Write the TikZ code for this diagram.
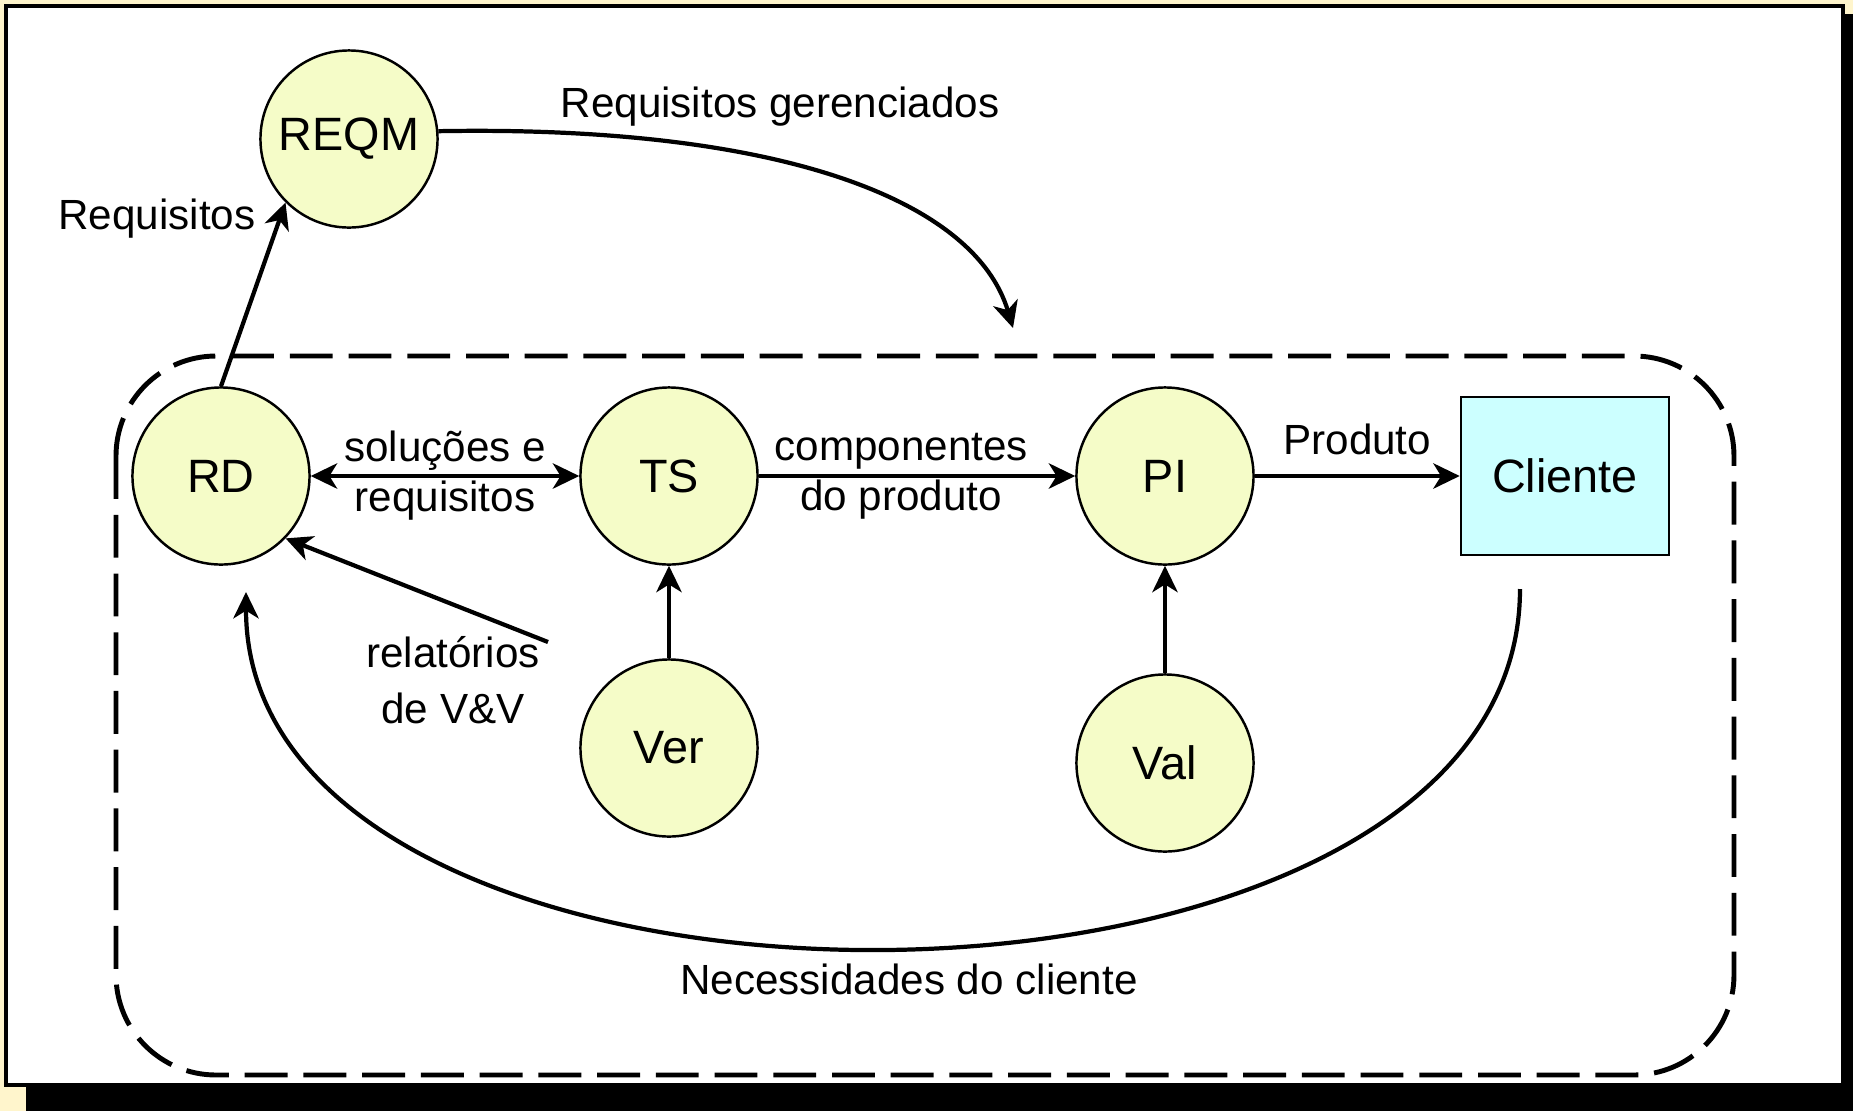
\documentclass[tikz,border=0pt]{standalone}
\usepackage{fontspec}
\setmainfont{Liberation Sans}
\usetikzlibrary{arrows.meta}

\definecolor{BackYellow}{RGB}{255,245,204}
\definecolor{VertexYellow}{RGB}{245,252,200}
\definecolor{ClientCyan}{RGB}{204,255,255}

\begin{document}
\begin{tikzpicture}[x=0.01cm,y=-0.01cm,>={Stealth[length=7.5pt,width=7.2pt,inset=2.2pt]}]
  \tikzset{VertexStyle/.style = {shape          = circle,
                                 fill           = VertexYellow,
                                 draw           = black,
                                 line width     = 0.7pt,
                                 text           = black,
                                 inner sep      = 0pt,
                                 minimum size   = 1.77cm,
                                 font           = \fontsize{13.3}{16}\selectfont}}
  \tikzset{ClientStyle/.style = {shape          = rectangle,
                                 fill           = ClientCyan,
                                 draw           = black,
                                 line width     = 0.7pt,
                                 minimum width  = 2.08cm,
                                 minimum height = 1.58cm,
                                 font           = \fontsize{13.3}{16}\selectfont}}
  \tikzset{EdgeStyle/.style   = {line width     = 1.2pt,
                                 ->}}
  \tikzset{EdgeStyleBoth/.style = {line width   = 1.2pt,
                                 <->}}
  \tikzset{LabelStyle/.style  = {align          = center,
                                 text           = black,
                                 font           = \fontsize{12}{14.2}\selectfont}}
  \tikzset{BoundaryStyle/.style = {line width   = 1.4pt,
                                 dash pattern   = on 12.2pt off 4.5pt,
                                 rounded corners = 1cm}}
%                                 dash phase = 0pt}}

\useasboundingbox (0,0) rectangle (1853,1111);

% frame
\fill[BackYellow] (0,0) rectangle (1853,1111);
\fill[black] (26,14) rectangle (1853,1111);
\draw[fill=white,line width=1pt] (6,6) rectangle (1843,1085);

\coordinate (cREQM) at (349,139);
\coordinate (cRD) at (221,476);
\coordinate (cTS) at (669,476);
\coordinate (cPI) at (1165,476);
\coordinate (cVer) at (669,748);
\coordinate (cVal) at (1165,763);
\coordinate (cCli) at (1565,476);

\coordinate (gerTip) at (1013,328);
\coordinate (vvStart) at (548,642);
\coordinate (needStart) at (1520,589);
\coordinate (needEnd) at (246,592);

\draw[BoundaryStyle] (116,356) rectangle (1734,1075);

\draw (cREQM) node[VertexStyle] (REQM) {REQM};
\draw (cRD)   node[VertexStyle] (RD)   {RD};
\draw (cTS)   node[VertexStyle] (TS)   {TS};
\draw (cPI)   node[VertexStyle] (PI)   {PI};
\draw (cVer)  node[VertexStyle] (Ver)  {Ver};
\draw (cVal)  node[VertexStyle] (Val)  {Val};
\draw (cCli)  node[ClientStyle] (Cli)  {Cliente};

\draw[EdgeStyle] (RD.north) -- (REQM.225);
\draw[EdgeStyle] (REQM.5) .. controls (780,125) and (975,200) .. (gerTip);
\draw[EdgeStyleBoth] (RD) -- (TS)
  node[LabelStyle,midway] (solLabel) {soluções e\\requisitos};
\draw[EdgeStyle] (TS) -- (PI)
  node[LabelStyle,pos=0.45] (compLabel) {componentes\\do produto};
\draw[EdgeStyle] (PI) -- (Cli)
  node[LabelStyle,midway,above=2pt] (prodLabel) {Produto};
\draw[EdgeStyle] (Ver) -- (TS);
\draw[EdgeStyle] (Val) -- (PI);
\draw[EdgeStyle] (vvStart) -- (RD.-44);
\draw[EdgeStyle] (needStart) .. controls (1520,1067) and (246,1067) .. (needEnd);

\node[LabelStyle] (reqLabel) at (157,219) {Requisitos};
\node[LabelStyle] (gerLabel) at (780,107) {Requisitos gerenciados};
\node[LabelStyle,font=\fontsize{12}{15.9}\selectfont] (vvLabel) at (453,680) {relatórios\\de V\&V};
\node[LabelStyle] (needLabel) at (909,979) {Necessidades do cliente};

\end{tikzpicture}
\end{document}
